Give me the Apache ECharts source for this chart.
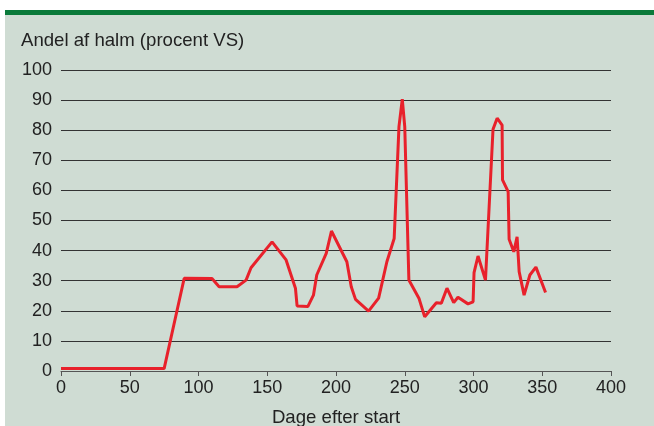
<!DOCTYPE html>
<html>
<head>
<meta charset="utf-8">
<script src="https://cdn.jsdelivr.net/npm/echarts@6/dist/echarts.min.js"></script>
<style>
  html, body { margin: 0; padding: 0; background: #fff; }
  #main { width: 654px; height: 426px; }
</style>
</head>
<body>
<div id="main"></div>
<script>
// dage efter start og andel halm
var dage = [0, 75, 89.6, 109.8, 115, 128, 134.6, 138.2, 153.5, 163.7, 170.5, 171.7, 179.5, 183.6, 186, 192.9, 196.7,
    207.9, 211.1, 214.2, 223.7, 231, 237, 242.3, 245.8, 248.2, 250, 253, 260.3, 264.5, 273, 276.6, 280.7, 285.6, 288.7,
    296, 299.7, 300.4, 303.3, 308.7, 314.2, 317.2, 320.8, 321.1, 325.2, 325.9, 329.3, 331.7, 333.2, 336.8, 341, 345.4, 352.4];
var andel = [0.8, 0.8, 30.8, 30.7, 28, 28, 30.2, 34.3, 42.9, 36.9, 27.5, 21.6, 21.4, 25.2, 31.9, 39.1, 46.5,
    36.3, 28, 23.8, 19.9, 24.2, 36.3, 44, 81.2, 90.3, 81.2, 30.2, 24.2, 18, 22.7, 22.5, 27.5, 22.7, 24.5,
    22.3, 23, 32.7, 38.2, 30.2, 80.3, 84, 81.7, 63.5, 59.6, 43.8, 39.6, 44.6, 33, 25.2, 31.9, 34.5, 26.1];

var xTicks = [0, 50, 100, 150, 200, 250, 300, 350, 400];

var punkter = [];
for (var i = 0; i < dage.length; i++) {
    punkter.push([dage[i], andel[i]]);
}

var font = 'Liberation Sans, Arial, sans-serif';
var myChart = echarts.init(document.getElementById('main'));
myChart.setOption({
    animation: false,
    textStyle: { fontFamily: font },
    graphic: [
        { type: 'rect', shape: { x: 5, y: 15, width: 649, height: 411 }, style: { fill: '#cfdcd3' }, z: -10 },
        { type: 'rect', shape: { x: 5, y: 10, width: 649, height: 5 }, style: { fill: '#0a7a3a' }, z: -10 }
    ],
    title: {
        text: 'Andel af halm (procent VS)',
        left: 21,
        top: 31,
        padding: 0,
        textStyle: { fontSize: 18.6, fontWeight: 'normal', color: '#222', fontFamily: font }
    },
    grid: { left: 61, right: 43, top: 70, bottom: 55, outerBoundsMode: 'none', containLabel: false },
    xAxis: {
        type: 'value',
        min: 0,
        max: 400,
        interval: 50,
        name: 'Dage efter start',
        nameLocation: 'middle',
        nameGap: 37,
        nameTextStyle: { fontSize: 18.6, color: '#222' },
        axisLine: { show: true, lineStyle: { color: '#555', width: 1 } },
        axisTick: { show: true, length: 5, lineStyle: { color: '#555' } },
        axisLabel: {
            fontSize: 18, color: '#222', margin: 8,
            formatter: function (v) { return xTicks.indexOf(v) >= 0 ? String(v) : ''; }
        },
        splitLine: { show: false }
    },
    yAxis: {
        type: 'value',
        min: 0,
        max: 100,
        interval: 10,
        axisLine: { show: false },
        axisTick: { show: false },
        axisLabel: { fontSize: 18, color: '#222', margin: 9 },
        splitLine: { show: true, lineStyle: { color: '#333', width: 1 } }
    },
    series: [{
        type: 'line',
        data: punkter,
        showSymbol: false,
        symbol: 'none',
        lineStyle: { color: '#e8212b', width: 3 },
        z: 5
    }]
});
</script>
</body>
</html>
